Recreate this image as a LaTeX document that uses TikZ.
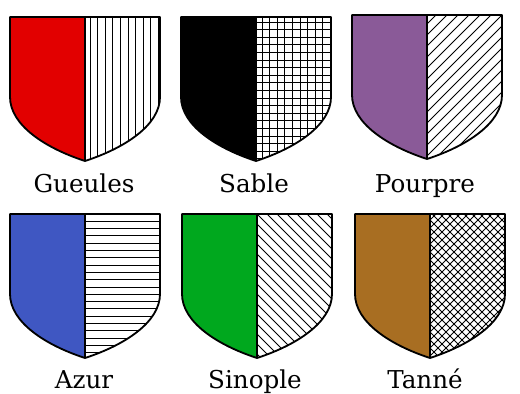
\documentclass[tikz,border=0pt]{standalone}
\usepackage{fontspec}
\setmainfont{DejaVu Serif}
\usepackage{tikz}
\usetikzlibrary{positioning}
\definecolor{gueulesred}{RGB}{226,0,0}
\definecolor{sableblack}{RGB}{0,0,0}
\definecolor{pourprepurple}{RGB}{138,90,152}
\definecolor{azurblue}{RGB}{63,87,194}
\definecolor{sinoplegreen}{RGB}{0,168,30}
\definecolor{tannebrown}{RGB}{168,110,34}
\tikzstyle{outline} = [line width=1.3pt, line join=round]
\tikzstyle{hatch} = [line width=0.65pt]
\tikzstyle{tincture} = [anchor=base, inner sep=0pt, font=\fontsize{17.5}{21}\selectfont]
\newcommand{\dexterhalf}{(0,0) -- (-75,0) -- (-75,-80) .. controls (-75,-108) and (-40,-131) .. (0,-144) -- cycle}
\newcommand{\sinisterhalf}{(0,0) -- (75,0) -- (75,-80) .. controls (75,-108) and (40,-131) .. (0,-144) -- cycle}
\newcommand{\shieldoutline}{(-75,0) -- (75,0) -- (75,-80) .. controls (75,-108) and (40,-131) .. (0,-144) .. controls (-40,-131) and (-75,-108) .. (-75,-80) -- cycle}

\begin{document}
\begin{tikzpicture}[x=0.025cm, y=0.025cm]
    \useasboundingbox (0,0) rectangle (520,394);
    \coordinate (gueules-top) at (85,377);
    \coordinate (sable-top) at (256,377);
    \coordinate (pourpre-top) at (427,379);
    \coordinate (azur-top) at (85,180);
    \coordinate (sinople-top) at (257,180);
    \coordinate (tanne-top) at (430,180);

    % Gueules - vertical lines
    \begin{scope}[shift={(gueules-top)}]
        \fill[gueulesred] \dexterhalf;
        \begin{scope}
            \clip \sinisterhalf;
            \foreach \x in {5,12.6,...,75} \draw[hatch] (\x,2) -- (\x,-146);
        \end{scope}
        \draw[outline] (0,0) -- (0,-144);
        \draw[outline] \shieldoutline;
    \end{scope}

    % Sable - square grid
    \begin{scope}[shift={(sable-top)}]
        \fill[sableblack] \dexterhalf;
        \begin{scope}
            \clip \sinisterhalf;
            \foreach \x in {6,13.6,...,75} \draw[hatch] (\x,2) -- (\x,-146);
            \foreach \y in {-5,-12.6,...,-144} \draw[hatch] (-2,\y) -- (77,\y);
        \end{scope}
        \draw[outline] (0,0) -- (0,-144);
        \draw[outline] \shieldoutline;
    \end{scope}

    % Pourpre - diagonal, bottom left to top right
    \begin{scope}[shift={(pourpre-top)}]
        \fill[pourprepurple] \dexterhalf;
        \begin{scope}
            \clip \sinisterhalf;
            \foreach \c in {-152,-141,...,80} \draw[hatch] (\c,-150) -- ++(160,160);
        \end{scope}
        \draw[outline] (0,0) -- (0,-144);
        \draw[outline] \shieldoutline;
    \end{scope}

    % Azur - horizontal lines
    \begin{scope}[shift={(azur-top)}]
        \fill[azurblue] \dexterhalf;
        \begin{scope}
            \clip \sinisterhalf;
            \foreach \y in {-7.3,-14.6,...,-144} \draw[hatch] (-2,\y) -- (77,\y);
        \end{scope}
        \draw[outline] (0,0) -- (0,-144);
        \draw[outline] \shieldoutline;
    \end{scope}

    % Sinople - diagonal, top left to bottom right
    \begin{scope}[shift={(sinople-top)}]
        \fill[sinoplegreen] \dexterhalf;
        \begin{scope}
            \clip \sinisterhalf;
            \foreach \c in {-160,-150,...,70} \draw[hatch] (\c,10) -- ++(160,-160);
        \end{scope}
        \draw[outline] (0,0) -- (0,-144);
        \draw[outline] \shieldoutline;
    \end{scope}

    % Tanne - diagonal cross
    \begin{scope}[shift={(tanne-top)}]
        \fill[tannebrown] \dexterhalf;
        \begin{scope}
            \clip \sinisterhalf;
            \foreach \c in {-160,-152,...,80} {
                \draw[hatch] (\c,-150) -- ++(160,160);
                \draw[hatch] (\c,10) -- ++(160,-160);
            }
        \end{scope}
        \draw[outline] (0,0) -- (0,-144);
        \draw[outline] \shieldoutline;
    \end{scope}

    % Labels
    \node (gueules) [tincture] at (84,201) {Gueules};
    \node (sable) [tincture] at (254,201) {Sable};
    \node (pourpre) [tincture] at (425,201) {Pourpre};
    \node (azur) [tincture] at (84,5) {Azur};
    \node (sinople) [tincture] at (255,5) {Sinople};
    \node (tanne) [tincture] at (425,5) {Tanné};
\end{tikzpicture}
\end{document}
